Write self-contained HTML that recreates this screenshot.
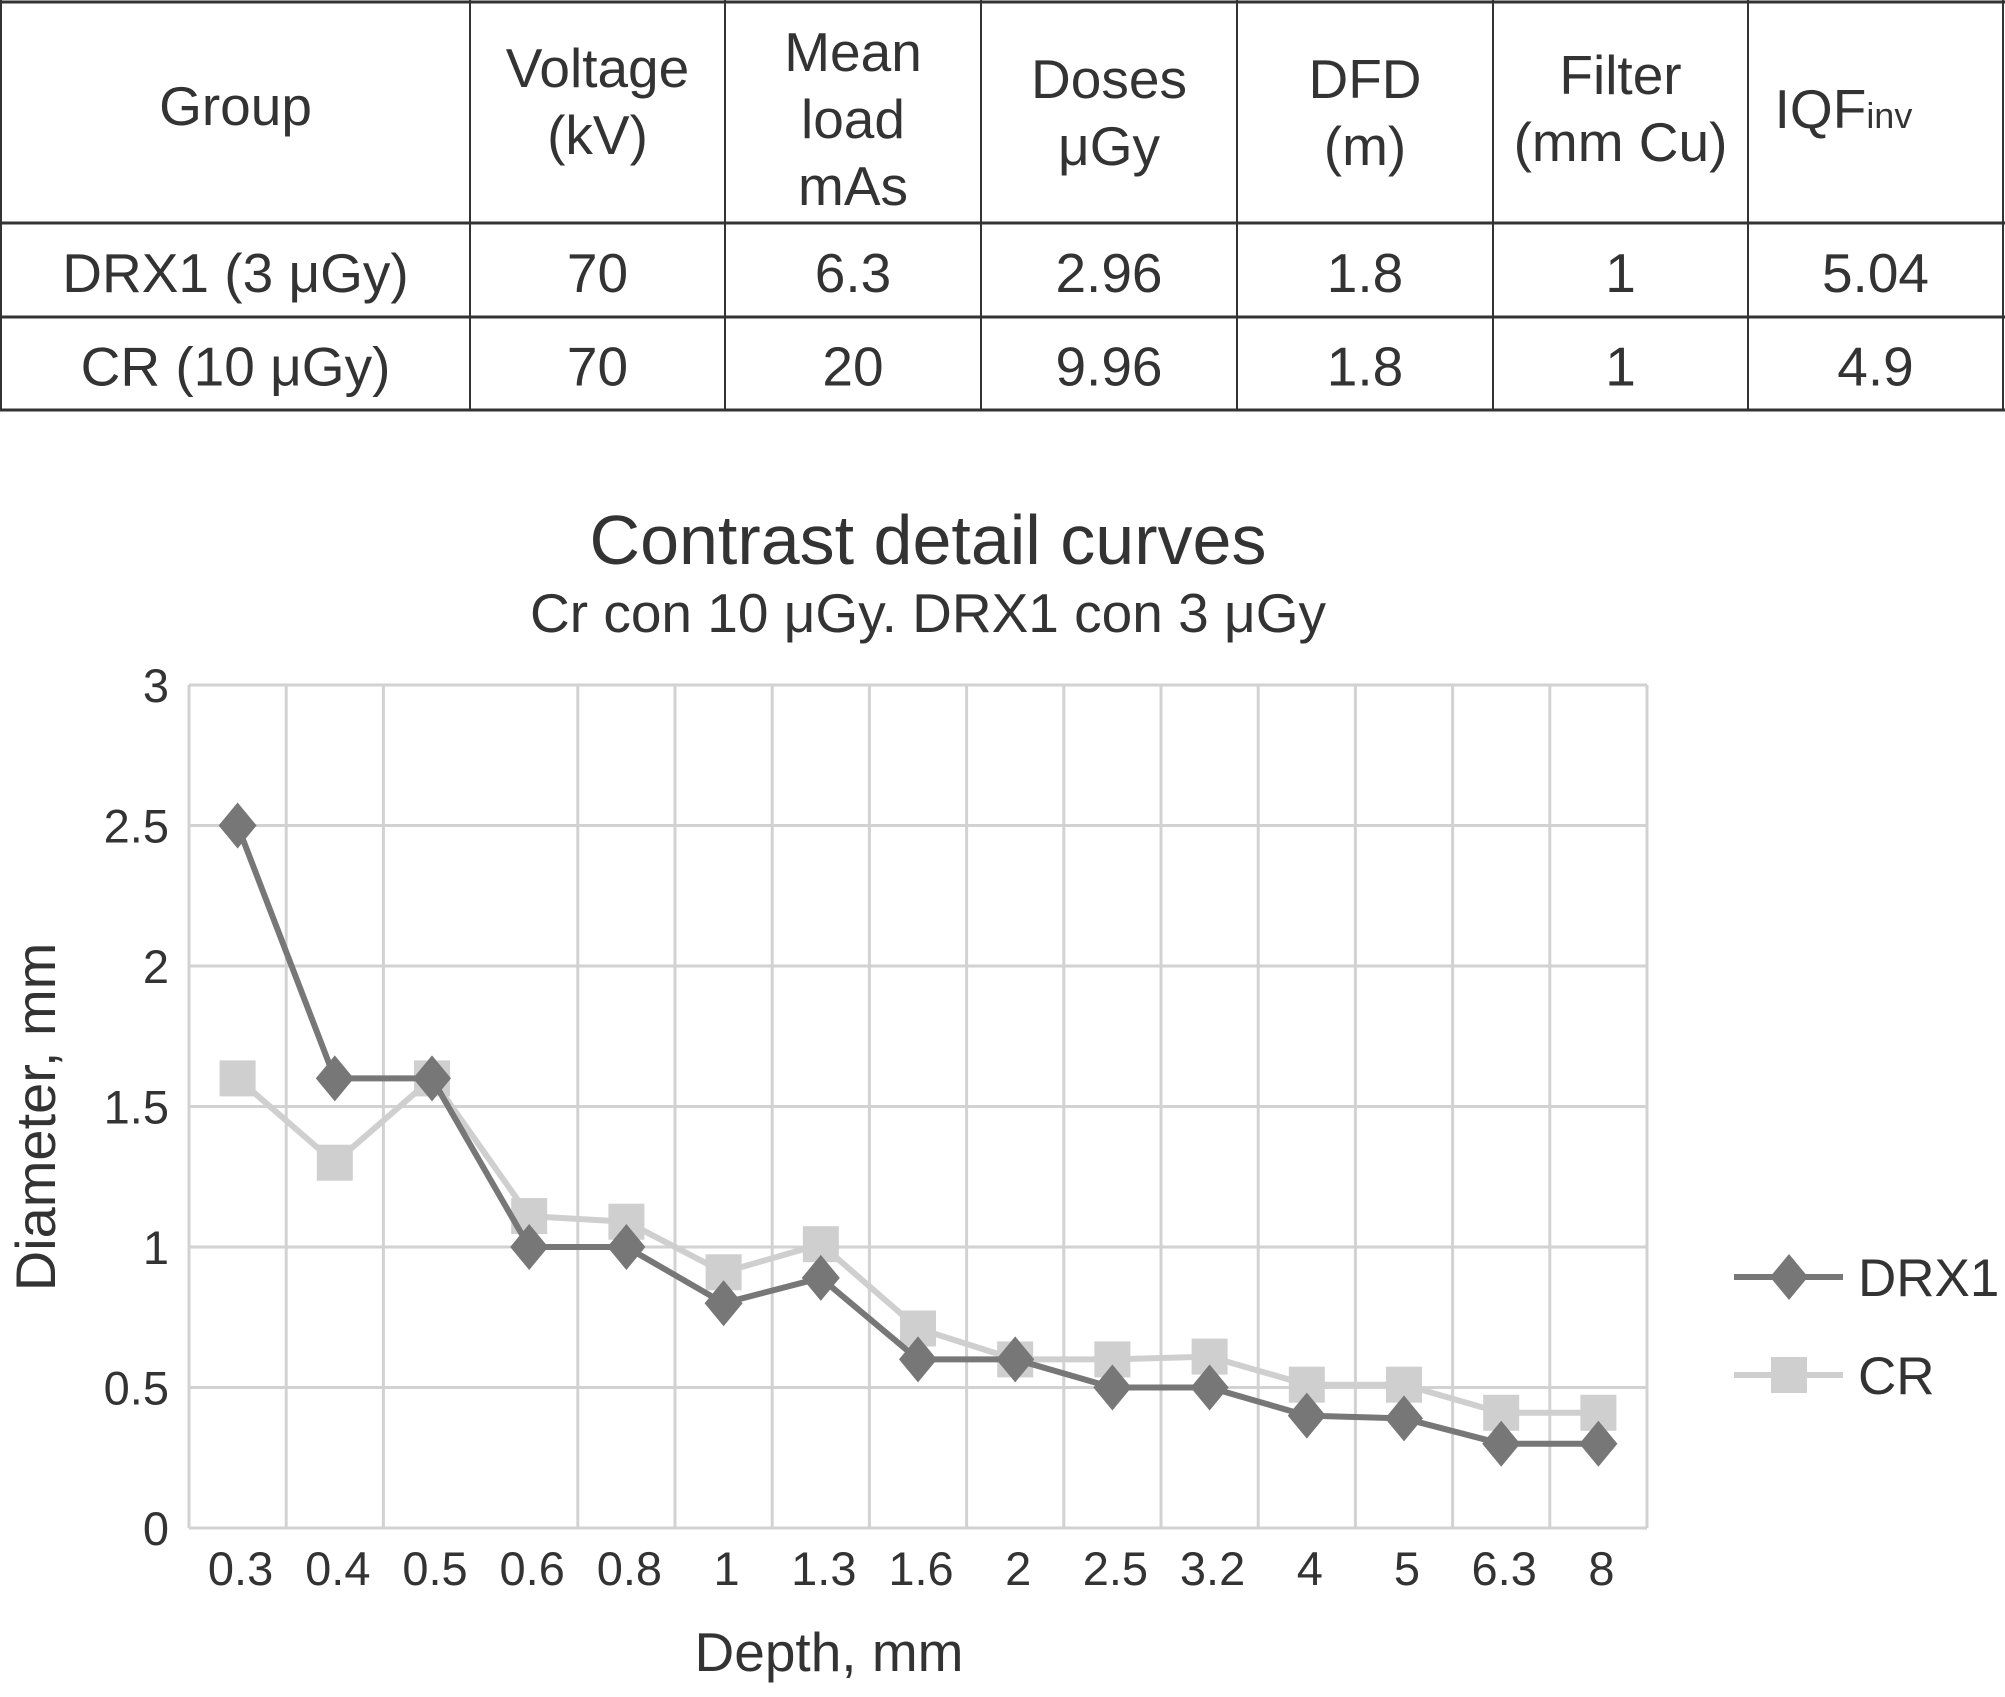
<!DOCTYPE html>
<html><head><meta charset="utf-8">
<style>
html,body{margin:0;padding:0;background:#fff;}
svg{display:block;font-family:"Liberation Sans",Arial,sans-serif;}
</style></head>
<body>
<svg id="root" width="2005" height="1697" viewBox="0 0 2005 1697" xmlns="http://www.w3.org/2000/svg">
<g id="table" fill="#333" font-size="55" text-anchor="middle"></g>
<g id="chart"></g>
</svg>
<script>
const categories = ["0.3","0.4","0.5","0.6","0.8","1","1.3","1.6","2","2.5","3.2","4","5","6.3","8"];
const drx1Values = [2.5,1.6,1.6,1.0,1.0,0.8,0.89,0.6,0.6,0.5,0.5,0.4,0.39,0.3,0.3];
const crValues = [1.6,1.3,1.6,1.11,1.09,0.91,1.01,0.71,0.6,0.6,0.61,0.51,0.51,0.41,0.41];
const yTicks = [0,0.5,1,1.5,2,2.5,3];
const yTickLabels = ["0","0.5","1","1.5","2","2.5","3"];
const tableHeader = [["Group"],["Voltage","(kV)"],["Mean","load","mAs"],["Doses","μGy"],["DFD","(m)"],["Filter","(mm Cu)"],["IQF_inv"]];
const tableRows = [["DRX1 (3 μGy)","70","6.3","2.96","1.8","1","5.04"],["CR (10 μGy)","70","20","9.96","1.8","1","4.9"]];

const NS="http://www.w3.org/2000/svg";
function mk(tag,attrs,parent){const e=document.createElementNS(NS,tag);for(const k in attrs)e.setAttribute(k,attrs[k]);parent.appendChild(e);return e;}

// ---- table
const T=document.getElementById('table');
const colX=[1,470,725,981,1237,1493,1748,2003];
const rowY=[2,223,317,410];
const headerFirstY=[125,87,71,98,98,94,128];
for(let i=0;i<colX.length;i++){const l=mk('line',{x1:colX[i],x2:colX[i],y1:0,y2:411,stroke:'#333','stroke-width':2},T);

}
for(let j=0;j<rowY.length;j++){const l=mk('line',{x1:0,x2:2005,y1:rowY[j],y2:rowY[j],stroke:'#333','stroke-width':3},T);

}
tableHeader.forEach((lines,c)=>{
  const cx=(colX[c]+colX[c+1])/2;
  const lh=67, y0=headerFirstY[c];
  lines.forEach((s,k)=>{
    const t=mk('text',{x:cx,y:y0+k*lh},T);
    
    
    if(s==="IQF_inv"){t.setAttribute('x',cx-32);t.textContent="IQF";const sp=mk('tspan',{'font-size':36},t);sp.textContent="inv";}
    else t.textContent=s;
  });
});
tableRows.forEach((row,r)=>{
  const cy=(rowY[r+1]+rowY[r+2])/2+22;
  row.forEach((s,c)=>{
    const t=mk('text',{x:(colX[c]+colX[c+1])/2,y:cy},T);
    
    
    t.textContent=s;
  });
});

// ---- chart
const C=document.getElementById('chart');
const L=189,R=1647,TOP=685,BOT=1528,YMAX=3;
const bw=(R-L)/categories.length;
const xs=i=>L+bw*(i+0.5);
const ys=v=>BOT-(v/YMAX)*(BOT-TOP);
const grid='#d2d2d2';
yTicks.forEach((v,i)=>{
  const g=mk('line',{x1:L,x2:R,y1:ys(v),y2:ys(v),stroke:grid,'stroke-width':3},C);
  
  
  const t=mk('text',{x:169,y:ys(v)+17,'text-anchor':'end','font-size':47,fill:'#333'},C);
  
  
  t.textContent=yTickLabels[i];
});
for(let i=0;i<=categories.length;i++){
  if(i===3)continue;
  const x=L+bw*i;
  const g=mk('line',{x1:x,x2:x,y1:TOP,y2:BOT,stroke:grid,'stroke-width':3},C);
  
  
}
categories.forEach((c,i)=>{
  const t=mk('text',{x:xs(i)+3,y:1585,'text-anchor':'middle','font-size':47,fill:'#333'},C);
  
  
  t.textContent=c;
});
function series(vals,color,shape,name){
  const pts=vals.map((v,i)=>xs(i)+','+ys(v)).join(' ');
  const pl=mk('polyline',{points:pts,fill:'none',stroke:color,'stroke-width':6,'stroke-linejoin':'round'},C);
  
  
  vals.forEach((v,i)=>{
    const x=xs(i),y=ys(v);let m;
    if(shape==='diamond') m=mk('polygon',{points:`${x},${y-23} ${x+19},${y} ${x},${y+23} ${x-19},${y}`,fill:color},C);
    else m=mk('rect',{x:x-18,y:y-18,width:36,height:36,fill:color},C);
    
    
  });
}
series(crValues,'#cfcfcf','square','cr');
series(drx1Values,'#777777','diamond','drx1');

const title=mk('text',{x:928,y:564,'text-anchor':'middle','font-size':70,fill:'#333'},C);


title.textContent='Contrast detail curves';
const sub=mk('text',{x:928,y:632,'text-anchor':'middle','font-size':55,fill:'#333'},C);


sub.textContent='Cr con 10 μGy. DRX1 con 3 μGy';
const xt=mk('text',{x:829,y:1671,'text-anchor':'middle','font-size':55,fill:'#333'},C);


xt.textContent='Depth, mm';
const yt=mk('text',{x:0,y:0,'text-anchor':'middle','font-size':56,fill:'#333',transform:'translate(55,1117) rotate(-90)'},C);


yt.textContent='Diameter, mm';

// legend
[['DRX1','#777777','diamond',1277],['CR','#cfcfcf','square',1375]].forEach(([lab,col,sh,y])=>{
  const g=mk('g',{},C);
  
  
  mk('line',{x1:1734,x2:1843,y1:y,y2:y,stroke:col,'stroke-width':6},g);
  const x=1789;
  if(sh==='diamond') mk('polygon',{points:`${x},${y-23} ${x+19},${y} ${x},${y+23} ${x-19},${y}`,fill:col},g);
  else mk('rect',{x:x-18,y:y-18,width:36,height:36,fill:col},g);
  const t=mk('text',{x:1858,y:y+19,'font-size':53,fill:'#333'},g);
  t.textContent=lab;
});
</script>
</body></html>
